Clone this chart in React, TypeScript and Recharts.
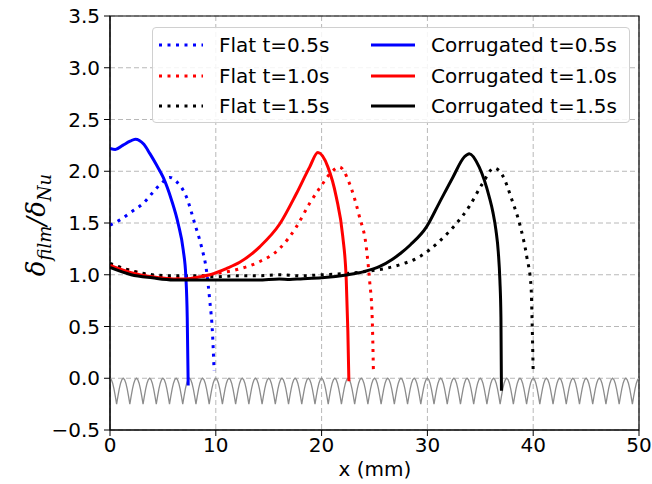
import React from "react";
import {
  LineChart,
  Line,
  XAxis,
  YAxis,
  CartesianGrid,
  ReferenceArea
} from "recharts";

// film thickness ratio vs. x (mm)
const flat05: [number, number][] = [
  [0, 1.48], [0.94, 1.53], [2.2, 1.62], [3.14, 1.69], [4.09, 1.8], [5.03, 1.9],
  [5.66, 1.94], [6.29, 1.9], [7.23, 1.75], [8.02, 1.49], [8.65, 1.27], [9.12, 1.04],
  [9.43, 0.75], [9.69, 0.43], [9.84, 0.07]
];

const corr05: [number, number][] = [
  [0, 2.22], [0.5, 2.21], [1.2, 2.25], [1.9, 2.29], [2.4, 2.31], [3.2, 2.26],
  [3.77, 2.17], [4.4, 2.06], [5.03, 1.94], [5.82, 1.72], [6.45, 1.49], [6.92, 1.24],
  [7.17, 0.98], [7.3, 0.59], [7.39, -0.07]
];

const flat10: [number, number][] = [
  [0, 1.1], [2, 1.04], [4, 0.99], [6, 0.97], [8, 0.98], [10, 1.01], [12, 1.05],
  [14, 1.12], [16, 1.25], [17.6, 1.46], [18.87, 1.69],
  [19.97, 1.86], [20.91, 1.99], [21.7, 2.04], [22.64, 1.88], [23.58, 1.56],
  [24.22, 1.27], [24.53, 0.95], [24.78, 0.59], [24.9, 0.05]
];

const corr10: [number, number][] = [
  [0, 1.09], [2, 1.02], [4, 0.98], [6, 0.96], [7.2, 0.96], [8.5, 0.98], [9.43, 1.0],
  [11, 1.06], [12.26, 1.12], [14.15, 1.27], [16.04, 1.49], [17.6, 1.78],
  [18.87, 2.04], [19.65, 2.18], [20.6, 2.04], [21.39, 1.75], [22.0, 1.37],
  [22.33, 0.95], [22.48, 0.46], [22.58, -0.03]
];

const flat15: [number, number][] = [
  [0, 1.11], [2, 1.04], [4, 1.0], [6, 0.99], [8, 0.99], [10, 0.98], [12, 0.99],
  [14, 0.99], [16, 1.0], [18, 0.99], [20, 1.0], [22, 1.01], [24, 1.03],
  [26, 1.06], [27.5, 1.1], [29.2, 1.17], [31.1, 1.32], [32.7, 1.49],
  [33.96, 1.66], [35.2, 1.88], [36.3, 2.03], [37.1, 1.96], [38.0, 1.72],
  [38.8, 1.46], [39.4, 1.17], [39.8, 0.88], [39.9, 0.53], [40.0, 0.05]
];

const corr15: [number, number][] = [
  [0, 1.07], [2, 1.0], [4, 0.97], [6, 0.95], [8, 0.95], [10, 0.95], [12, 0.95],
  [14, 0.95], [16, 0.96], [17, 0.955], [18, 0.96], [20, 0.97], [22.5, 1.0],
  [24, 1.03], [25.5, 1.08], [26.7, 1.15], [27.5, 1.21], [28.4, 1.29],
  [29.9, 1.46], [31.1, 1.69], [32.4, 1.94], [33.5, 2.14], [33.96, 2.17],
  [34.9, 2.04], [35.85, 1.75], [36.2, 1.6], [36.48, 1.43], [36.7, 1.22],
  [36.85, 0.95], [36.95, 0.59], [37.0, -0.12]
];

// corrugated wall: one period of the profile (mm), repeated along the plate
const wallPeriod = 1.25;
const wallCount = 40;
const wallProfile = [0, -0.012, -0.048, -0.103, -0.173, -0.25, -0.173, -0.103, -0.048, -0.012];

const xTicks = [0, 10, 20, 30, 40, 50];
const yTicks = [-0.5, 0, 0.5, 1, 1.5, 2, 2.5, 3, 3.5];

const toPts = (arr: [number, number][]) => arr.map(([x, y]) => ({ x, y }));

const wall: { x: number; y: number }[] = [];
for (let i = 0; i < wallCount; i++) {
  wallProfile.forEach((y, j) => {
    wall.push({ x: i * wallPeriod + (j * wallPeriod) / wallProfile.length, y });
  });
}
wall.push({ x: wallCount * wallPeriod, y: 0 });

const FONT = "DejaVu Sans";
const DOT = "3 5.5";

const series = [
  { name: "Flat t=0.5s", data: flat05, color: "#0000ff", dotted: true },
  { name: "Flat t=1.0s", data: flat10, color: "#ff0000", dotted: true },
  { name: "Flat t=1.5s", data: flat15, color: "#000000", dotted: true },
  { name: "Corrugated t=0.5s", data: corr05, color: "#0000ff", dotted: false },
  { name: "Corrugated t=1.0s", data: corr10, color: "#ff0000", dotted: false },
  { name: "Corrugated t=1.5s", data: corr15, color: "#000000", dotted: false }
];

const fmt = (v: number) => (v < 0 ? "\u2212" + Math.abs(v).toFixed(1) : v.toFixed(1));

const LegendBox = () => (
  <div
    style={{
      position: "absolute",
      left: 152,
      top: 27,
      width: 476,
      height: 94,
      border: "1px solid #d0d0d0",
      borderRadius: 4,
      background: "rgba(255,255,255,0.85)",
      fontFamily: FONT,
      fontSize: 20
    }}
  >
    {series.map((s, i) => {
      const col = i < 3 ? 0 : 1;
      const row = i % 3;
      const top = 17 + row * 30.5;
      const lx = col === 0 ? 6 : 218;
      return (
        <div key={s.name}>
          <svg
            width={46}
            height={6}
            style={{ position: "absolute", left: lx, top: top - 3 }}
          >
            <line
              x1={0}
              y1={3}
              x2={44}
              y2={3}
              stroke={s.color}
              strokeWidth={3}
              strokeDasharray={s.dotted ? DOT : undefined}
            />
          </svg>
          <span
            style={{
              position: "absolute",
              left: lx + 60,
              top: top - 12,
              lineHeight: "24px",
              whiteSpace: "nowrap"
            }}
          >
            {s.name}
          </span>
        </div>
      );
    })}
  </div>
);

const YLabel = () => (
  <text
    x={0}
    y={0}
    transform="translate(45, 225) rotate(-90)"
    textAnchor="middle"
    fontFamily="DejaVu Serif"
    fontStyle="italic"
    fontSize={26}
    fill="#000"
  >
    <tspan>δ</tspan>
    <tspan fontSize={18} dy={6}>film</tspan>
    <tspan dy={-6}>/δ</tspan>
    <tspan fontSize={18} dy={6}>Nu</tspan>
  </text>
);

const App: React.FC = () => {
  return (
    <div style={{ position: "absolute", left: 0, top: 0, width: 652, height: 484, background: "#fff" }}>
      <LineChart
        width={652}
        height={484}
        margin={{ top: 16, right: 13, bottom: 24, left: 50 }}
      >
        <CartesianGrid stroke="#b8b8b8" strokeDasharray="5 3" />
        <XAxis
          dataKey="x"
          type="number"
          domain={[0, 50]}
          ticks={xTicks}
          allowDataOverflow
          height={30}
          tickSize={6}
          tickMargin={2}
          stroke="#000"
          tick={{ fill: "#000", fontSize: 20, fontFamily: FONT }}
          label={{
            content: () => (
              <text x={375} y={476} textAnchor="middle" fontFamily={FONT} fontSize={20} fill="#000">
                x (mm)
              </text>
            )
          }}
        />
        <YAxis
          type="number"
          domain={[-0.5, 3.5]}
          ticks={yTicks}
          allowDataOverflow
          width={60}
          tickSize={6}
          tickMargin={4}
          stroke="#000"
          tickFormatter={fmt}
          tick={{ fill: "#000", fontSize: 20, fontFamily: FONT }}
          label={{ content: () => <YLabel /> }}
        />
        <Line
          data={wall}
          dataKey="y"
          type="linear"
          stroke="#8c8c8c"
          strokeWidth={1.3}
          dot={false}
          isAnimationActive={false}
        />
        {series.map(s => (
          <Line
            key={s.name}
            data={toPts(s.data)}
            dataKey="y"
            name={s.name}
            type="monotone"
            stroke={s.color}
            strokeWidth={3}
            strokeDasharray={s.dotted ? DOT : undefined}
            dot={false}
            isAnimationActive={false}
          />
        ))}
        <ReferenceArea
          x1={0}
          x2={50}
          y1={-0.5}
          y2={3.5}
          fill="none"
          stroke="#000"
          strokeWidth={1.2}
          ifOverflow="visible"
        />
      </LineChart>
      <LegendBox />
    </div>
  );
};

export default App;
